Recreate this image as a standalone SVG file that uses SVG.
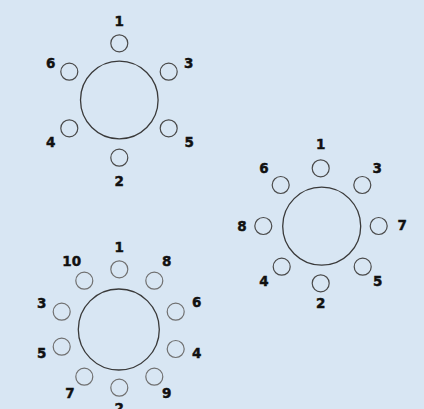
<svg xmlns="http://www.w3.org/2000/svg" width="424" height="409" viewBox="0 0 424 409">
<style>
.big{fill:none;stroke:#3a3a3a;stroke-width:1.3}
.s{fill:none;stroke:#4a4a4a;stroke-width:1.2}
.s3{fill:none;stroke:#707070;stroke-width:1.2}
text{font-family:"DejaVu Sans","Liberation Sans",Arial,sans-serif;font-weight:bold;font-size:13.5px;fill:#111;stroke:#111;stroke-width:0.45;text-anchor:middle}
</style>
<rect width="424" height="409" fill="#d8e6f3"/>
<g id="pattern6">
<circle class="big" cx="119.3" cy="100" r="38.8"/>
<circle class="s" cx="119.3" cy="43.3" r="8.5"/>
<circle class="s" cx="69.3" cy="71.7" r="8.5"/>
<circle class="s" cx="168.7" cy="71.7" r="8.5"/>
<circle class="s" cx="69.3" cy="128.3" r="8.5"/>
<circle class="s" cx="168.7" cy="128.3" r="8.5"/>
<circle class="s" cx="119.3" cy="157.7" r="8.5"/>
<text x="119.3" y="26">1</text>
<text x="50.7" y="67.7">6</text>
<text x="188.7" y="67.7">3</text>
<text x="50.7" y="146.7">4</text>
<text x="189.3" y="146.7">5</text>
<text x="119.3" y="186">2</text>
</g>
<g id="pattern8">
<circle class="big" cx="321.7" cy="226.2" r="39"/>
<circle class="s" cx="320.7" cy="168.3" r="8.5"/>
<circle class="s" cx="280.7" cy="185" r="8.5"/>
<circle class="s" cx="362.3" cy="185" r="8.5"/>
<circle class="s" cx="263.3" cy="226" r="8.5"/>
<circle class="s" cx="378.7" cy="226" r="8.5"/>
<circle class="s" cx="281.7" cy="266.7" r="8.5"/>
<circle class="s" cx="362.7" cy="266.7" r="8.5"/>
<circle class="s" cx="320.7" cy="283.3" r="8.5"/>
<text x="320.7" y="149">1</text>
<text x="264" y="173.3">6</text>
<text x="377.3" y="173.3">3</text>
<text x="242" y="230.5">8</text>
<text x="402.3" y="230">7</text>
<text x="264" y="285.7">4</text>
<text x="377.7" y="285.7">5</text>
<text x="320.7" y="307.7">2</text>
</g>
<g id="pattern10">
<circle class="big" cx="118.8" cy="329.5" r="40.5"/>
<circle class="s3" cx="119.3" cy="269.3" r="8.5"/>
<circle class="s3" cx="84.3" cy="280.7" r="8.5"/>
<circle class="s3" cx="154.3" cy="280.7" r="8.5"/>
<circle class="s3" cx="61.7" cy="311.7" r="8.5"/>
<circle class="s3" cx="175.7" cy="311.7" r="8.5"/>
<circle class="s3" cx="61.7" cy="346.7" r="8.5"/>
<circle class="s3" cx="175.7" cy="349" r="8.5"/>
<circle class="s3" cx="84.3" cy="376.7" r="8.5"/>
<circle class="s3" cx="154.3" cy="376.7" r="8.5"/>
<circle class="s3" cx="119.3" cy="387.7" r="8.5"/>
<text x="119.3" y="251.7">1</text>
<text x="71.7" y="266">10</text>
<text x="166.7" y="266">8</text>
<text x="41.7" y="307.7">3</text>
<text x="196.7" y="306.7">6</text>
<text x="41.7" y="357.7">5</text>
<text x="196.7" y="357.7">4</text>
<text x="70" y="398.3">7</text>
<text x="166.7" y="398.3">9</text>
<text x="119.3" y="413">2</text>
</g>
</svg>
